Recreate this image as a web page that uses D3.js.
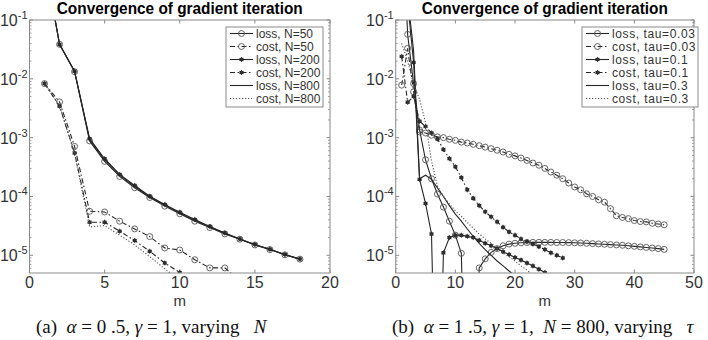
<!DOCTYPE html>
<html>
<head>
<meta charset="utf-8">
<script src="https://cdn.jsdelivr.net/npm/d3@7"></script>
<style>
body { margin: 0; background: #fff; }
svg text { font-family: "Liberation Sans", Arial, sans-serif; }
.caption { font-family: "Liberation Serif", "Times New Roman", serif; white-space: pre; }
</style>
</head>
<body>
<svg id="chart" width="708" height="340"></svg>
<script>
// values, index 0 is m = 1
const lossN50 = [1.0, 0.0385, 0.0132, 8.8e-4, 3.95e-4, 2.19e-4, 1.41e-4, 9.6e-5, 6.85e-5, 5.07e-5, 3.8e-5, 2.96e-5, 2.31e-5, 1.88e-5, 1.5e-5, 1.25e-5, 1.02e-5, 8.6e-6];
const costN50 = [8.3e-3, 4.05e-3, 7.1e-4, 5.6e-5, 5.45e-5, 3.8e-5, 2.81e-5, 2.08e-5, 1.33e-5, 1.23e-5, 8.4e-6, 6.1e-6, 6.1e-6, 3.7e-6];
const lossN200 = [1.0, 0.0385, 0.0135, 9.6e-4, 4.38e-4, 2.37e-4, 1.54e-4, 1.01e-4, 7.3e-5, 5.4e-5, 4.06e-5, 3.08e-5, 2.4e-5, 1.9e-5, 1.52e-5, 1.27e-5, 1.03e-5, 8.66e-6];
const costN200 = [8.3e-3, 3.42e-3, 5.5e-4, 3.65e-5, 3.65e-5, 2.57e-5, 1.78e-5, 1.17e-5, 7.4e-6, 5.1e-6, 3.3e-6];
const lossN800 = [1.0, 0.0385, 0.0134, 9.3e-4, 4.2e-4, 2.3e-4, 1.48e-4, 9.9e-5, 7.1e-5, 5.25e-5, 3.95e-5, 3.02e-5, 2.36e-5, 1.89e-5, 1.51e-5, 1.26e-5, 1.025e-5, 8.6e-6];
const costN800 = [8.3e-3, 3.5e-3, 5.3e-4, 3.05e-5, 3.2e-5, 2.2e-5, 1.5e-5, 9.5e-6, 5.9e-6, 3.7e-6];

const lossTau003 = [10, 0.057, 8.3e-3, 1.35e-3, 4.2e-4, 2.0e-4, 1.1e-4, 6.6e-5, 3.8e-5, 2.2e-5, 1.08e-5, 1e-9, 1e-9, 6.1e-6, 8.7e-6, 1.12e-5, 1.3e-5, 1.45e-5, 1.55e-5, 1.6e-5, 1.63e-5, 1.65e-5, 1.66e-5, 1.66e-5, 1.66e-5, 1.66e-5, 1.65e-5, 1.65e-5, 1.64e-5, 1.63e-5, 1.62e-5, 1.6e-5, 1.58e-5, 1.56e-5, 1.54e-5, 1.52e-5, 1.5e-5, 1.48e-5, 1.45e-5, 1.42e-5, 1.39e-5, 1.36e-5, 1.33e-5, 1.3e-5, 1.26e-5];
const costTau003 = [7.8e-3, 0.033, 6e-3, 1.25e-3, 1.2e-3, 1.1e-3, 1.03e-3, 1.0e-3, 9.4e-4, 9.0e-4, 8.4e-4, 8.1e-4, 7.7e-4, 7.3e-4, 6.9e-4, 6.5e-4, 6.1e-4, 5.7e-4, 5.2e-4, 4.9e-4, 4.5e-4, 4.1e-4, 3.7e-4, 3.4e-4, 3.0e-4, 2.6e-4, 2.3e-4, 2.0e-4, 1.69e-4, 1.45e-4, 1.3e-4, 1.11e-4, 1.0e-4, 8.8e-5, 8.0e-5, 6.2e-5, 4.7e-5, 4.4e-5, 4.2e-5, 3.9e-5, 3.75e-5, 3.7e-5, 3.5e-5, 3.4e-5, 3.3e-5];
const lossTau01 = [3, 0.2, 0.019, 1.95e-4, 7.6e-5, 2.3e-5, 1e-9, 1.1e-5, 2.0e-5, 2.2e-5, 2.2e-5, 2.1e-5, 2.0e-5, 1.8e-5, 1.6e-5, 1.45e-5, 1.3e-5, 1.15e-5, 1.03e-5, 9.2e-6, 8.3e-6, 7.4e-6, 6.6e-6, 5.8e-6, 5.1e-6];
const costTau01 = [0.024, 4e-3, 5e-3, 1.9e-3, 1.55e-3, 1.2e-3, 9.5e-4, 6.3e-4, 4.4e-4, 3.2e-4, 2.1e-4, 1.3e-4, 9.3e-5, 7.0e-5, 5.5e-5, 4.5e-5, 3.7e-5, 3.0e-5, 2.5e-5, 2.2e-5, 1.9e-5, 1.7e-5, 1.55e-5, 1.4e-5, 1.25e-5, 1.1e-5, 1.0e-5, 9e-6];
const lossTau03 = [10, 0.25, 0.03, 2.0e-4, 2.3e-4, 1.95e-4, 1.4e-4, 1.0e-4, 7e-5, 5e-5, 3.8e-5, 2.8e-5, 2.1e-5, 1.6e-5, 1.25e-5, 1.0e-5, 8e-6, 6.6e-6, 5.4e-6, 4.5e-6];
const costTau03 = [0.04, 0.02, 8e-3, 4.5e-3, 1.8e-3, 4e-4, 1.5e-4, 1.0e-4, 7.5e-5, 5.7e-5, 4.6e-5, 3.6e-5, 2.9e-5, 2.3e-5, 1.9e-5, 1.6e-5, 1.3e-5, 1.1e-5, 9.5e-6, 8e-6, 6.6e-6, 5.6e-6, 4.6e-6];

const leftLabels = ['loss, N=50', 'cost, N=50', 'loss, N=200', 'cost, N=200', 'loss, N=800', 'cost, N=800'];
const rightLabels = ['loss, tau=0.03', 'cost, tau=0.03', 'loss, tau=0.1', 'cost, tau=0.1', 'loss, tau=0.3', 'cost, tau=0.3'];
const leftTicks = [0, 5, 10, 15, 20];
const rightTicks = [0, 10, 20, 30, 40, 50];
const yTicks = [1e-1, 1e-2, 1e-3, 1e-4, 1e-5];
const yTickExp = ['-1', '-2', '-3', '-4', '-5'];
const yDomain = [5e-6, 0.1];
const title = 'Convergence of gradient iteration';

// line style and marker of each legend row, same order in both panels
const styles = [
	{ dash: null, marker: 'o' },
	{ dash: '5,2.5,1.5,2.5', marker: 'o' },
	{ dash: null, marker: '*' },
	{ dash: '5,2.5,1.5,2.5', marker: '*' },
	{ dash: null, marker: null },
	{ dash: '1.2,1.8', marker: null }
];

const svg = d3.select('#chart');
const axisColor = '#8a8a8a';
const textColor = '#333';
const plotTop = 20;
const plotBottom = 273;

const drawMarker = (g, type, cx, cy) => {
	if (type === 'o') {
		g.append('circle')
			.attr('cx', cx).attr('cy', cy).attr('r', 3)
			.attr('fill', 'none')
			.attr('stroke', '#555')
			.attr('stroke-width', 0.9);
	} else if (type === '*') {
		g.append('circle')
			.attr('cx', cx).attr('cy', cy).attr('r', 2)
			.attr('fill', '#222');
		g.append('path')
			.attr('transform', `translate(${cx},${cy})`)
			.attr('d', d3.symbol().type(d3.symbolAsterisk).size(18)())
			.attr('fill', 'none')
			.attr('stroke', '#333')
			.attr('stroke-width', 0.8);
	}
};

const drawPanel = (id, left, right, xMax, xTicks, series, labels, legend) => {
	const x = d3.scaleLinear().domain([0, xMax]).range([left, right]);
	const y = d3.scaleLog().domain(yDomain).range([plotBottom, plotTop]);
	const g = svg.append('g');

	g.append('clipPath').attr('id', 'clip-' + id)
		.append('rect')
		.attr('x', left).attr('y', plotTop)
		.attr('width', right - left).attr('height', plotBottom - plotTop);

	// minor log ticks, inside the box on both sides
	const minor = [];
	[1e-6, 1e-5, 1e-4, 1e-3, 1e-2].forEach(d => {
		for (let k = 2; k <= 9; k++) {
			const v = k * d;
			if (v > yDomain[0] && v < yDomain[1]) minor.push(v);
		}
	});
	minor.forEach(v => {
		g.append('line').attr('x1', left).attr('x2', left + 2).attr('y1', y(v)).attr('y2', y(v))
			.attr('stroke', axisColor).attr('stroke-width', 0.8);
		g.append('line').attr('x1', right).attr('x2', right - 2).attr('y1', y(v)).attr('y2', y(v))
			.attr('stroke', axisColor).attr('stroke-width', 0.8);
	});
	yTicks.forEach((v, i) => {
		g.append('line').attr('x1', left).attr('x2', left + 3.5).attr('y1', y(v)).attr('y2', y(v))
			.attr('stroke', axisColor);
		g.append('line').attr('x1', right).attr('x2', right - 3.5).attr('y1', y(v)).attr('y2', y(v))
			.attr('stroke', axisColor);
		const t = g.append('text')
			.attr('x', left - 2).attr('y', y(v) + 6)
			.attr('text-anchor', 'end')
			.attr('fill', textColor)
			.style('font-size', '16px');
		t.append('tspan').text('10');
		t.append('tspan').attr('dy', -7).style('font-size', '11px').text(yTickExp[i]);
	});
	xTicks.forEach(v => {
		g.append('line').attr('x1', x(v)).attr('x2', x(v)).attr('y1', plotBottom).attr('y2', plotBottom - 3.5)
			.attr('stroke', axisColor);
		g.append('line').attr('x1', x(v)).attr('x2', x(v)).attr('y1', plotTop).attr('y2', plotTop + 3.5)
			.attr('stroke', axisColor);
		g.append('text')
			.attr('x', x(v)).attr('y', plotBottom + 15)
			.attr('text-anchor', 'middle')
			.attr('fill', textColor)
			.style('font-size', '16px')
			.text(v);
	});

	const plot = g.append('g').attr('clip-path', `url(#clip-${id})`);
	const line = d3.line()
		.x((d, i) => { return x(i + 1); })
		.y(d => { return y(d); });

	series.forEach((values, s) => {
		const st = styles[s];
		plot.append('path').datum(values)
			.attr('fill', 'none')
			.attr('stroke', st.dash === '1.2,1.8' ? '#555' : '#262626')
			.attr('stroke-width', 1.1)
			.attr('stroke-dasharray', st.dash)
			.attr('d', line);
		values.forEach((v, i) => {
			drawMarker(plot, st.marker, x(i + 1), y(v));
		});
	});

	g.append('rect')
		.attr('x', left).attr('y', plotTop)
		.attr('width', right - left).attr('height', plotBottom - plotTop)
		.attr('fill', 'none')
		.attr('stroke', axisColor)
		.attr('stroke-width', 1);

	g.append('text')
		.attr('x', (left + right) / 2 - 123).attr('y', 14)
		.attr('textLength', 246)
		.attr('lengthAdjust', 'spacingAndGlyphs')
		.attr('fill', '#000')
		.style('font-size', '16px')
		.style('font-weight', 'bold')
		.text(title);

	g.append('text')
		.attr('x', (left + right) / 2).attr('y', 306)
		.attr('text-anchor', 'middle')
		.attr('fill', textColor)
		.style('font-size', '15px')
		.text('m');

	// legend box
	const lg = g.append('g');
	lg.append('rect')
		.attr('x', legend.x).attr('y', 27)
		.attr('width', legend.w).attr('height', 80)
		.attr('fill', '#fff')
		.attr('stroke', axisColor)
		.attr('stroke-width', 1);
	labels.forEach((lab, i) => {
		const st = styles[i];
		const ly = 33.5 + i * 13;
		lg.append('line')
			.attr('x1', legend.x + 4).attr('x2', legend.x + 27)
			.attr('y1', ly).attr('y2', ly)
			.attr('stroke', st.dash === '1.2,1.8' ? '#555' : '#262626')
			.attr('stroke-width', 1.1)
			.attr('stroke-dasharray', st.dash);
		drawMarker(lg, st.marker, legend.x + 15.5, ly);
		lg.append('text')
			.attr('x', legend.x + 30).attr('y', ly + 4.3)
			.attr('fill', textColor)
			.style('font-size', '12px')
			.style('letter-spacing', legend.spacing + 'px')
			.text(lab);
	});
};

drawPanel('a', 29.5, 330, 20, leftTicks,
	[lossN50, costN50, lossN200, costN200, lossN800, costN800],
	leftLabels, { x: 226, w: 97, spacing: 0 });
drawPanel('b', 395.7, 694, 50, rightTicks,
	[lossTau003, costTau003, lossTau01, costTau01, lossTau03, costTau03],
	rightLabels, { x: 582, w: 116, spacing: 0.6 });

// captions
const capA = svg.append('text').attr('class', 'caption')
	.attr('x', 36).attr('y', 333)
	.style('font-size', '19px').attr('fill', '#111');
capA.append('tspan').text('(a)  ');
capA.append('tspan').style('font-style', 'italic').text('α');
capA.append('tspan').text(' = 0 .5, ');
capA.append('tspan').style('font-style', 'italic').text('γ');
capA.append('tspan').text(' = 1, varying   ');
capA.append('tspan').style('font-style', 'italic').text('N');

const capB = svg.append('text').attr('class', 'caption')
	.attr('x', 392).attr('y', 333)
	.style('font-size', '19px').attr('fill', '#111');
capB.append('tspan').text('(b)  ');
capB.append('tspan').style('font-style', 'italic').text('α');
capB.append('tspan').text(' = 1 .5, ');
capB.append('tspan').style('font-style', 'italic').text('γ');
capB.append('tspan').text(' = 1,  ');
capB.append('tspan').style('font-style', 'italic').text('N');
capB.append('tspan').text(' = 800, varying   ');
capB.append('tspan').style('font-style', 'italic').text('τ');
</script>
</body>
</html>
